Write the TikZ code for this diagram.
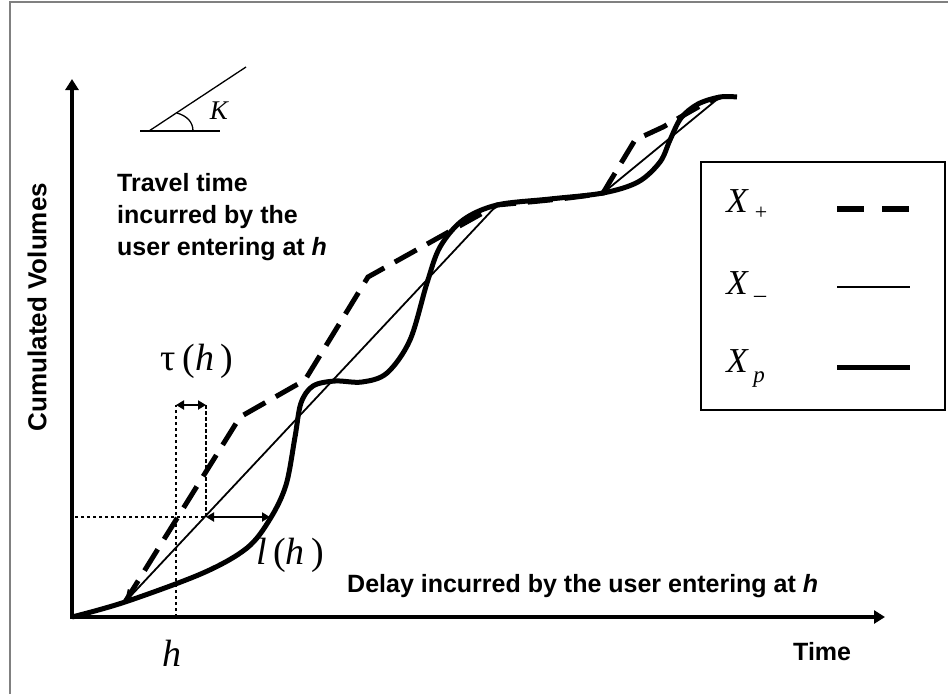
\documentclass[tikz,border=0pt]{standalone}
\usepackage{fontspec}
\setmainfont{Liberation Serif}
\setsansfont{Liberation Sans}
\usetikzlibrary{arrows.meta,positioning}

\tikzset{
  axisline/.style={line width=3.2pt,{Triangle[length=11pt,width=13pt]}-{Triangle[length=11pt,width=13pt]}},
  xplus/.style={line width=5pt,dash pattern=on 25pt off 12pt},
  xminus/.style={line width=1.8pt,-{Straight Barb[length=10pt,width=12pt]}},
  pcurve/.style={line width=5pt,line join=round},
  guide/.style={line width=2.8pt,dash pattern=on 3.5pt off 2.5pt},
  spanarrow/.style={line width=2.2pt,{Triangle[length=8pt,width=9pt]}-{Triangle[length=8pt,width=9pt]}},
  lab/.style={font=\sffamily\bfseries\fontsize{25}{29}\selectfont,inner sep=0pt},
  sym/.style={font=\fontsize{38}{42}\selectfont,inner sep=0pt},
  legsym/.style={font=\fontsize{35}{38}\selectfont\itshape,inner sep=0pt},
}

\begin{document}
\begin{tikzpicture}[x=1pt,y=-1pt]
  \useasboundingbox (0,0) rectangle (948,694);
  % frame
  \draw[gray,line width=1.5pt] (10,694) -- (10,2) -- (948,2);

  % axes
  \coordinate (o) at (72,617);
  \coordinate (ytop) at (72,79);
  \coordinate (xend) at (885,617);
  \draw[axisline] (ytop) -- (o) -- (xend);

  % slope K
  \coordinate (kv) at (149,131);
  \draw[line width=1.3pt] (140,131) -- (220,131);
  \draw[line width=1.3pt] (kv) -- (246,67);
  \draw[line width=1.3pt] (193,131) .. controls (193,122) and (187,116) .. (177,113);
  \node[sym,font=\fontsize{27}{30}\selectfont\itshape] (K) at (219,111) {K};

  % key points
  \coordinate (k1) at (125,602);
  \coordinate (k2) at (497,205);
  \coordinate (k3) at (603,193);
  \coordinate (k4) at (720,97);
  \coordinate (k5) at (737,97);

  % curves
  \draw[pcurve] plot[smooth,tension=0.55] coordinates {(o) (k1) (203,573) (247,548) (270,519) (286,485) (295,437) (301,403) (313,386) (335,381) (362,382) (387,373) (410,340) (427,283) (440,247) (463,220) (k2) (550,199) (k3) (638,182) (660,162) (670,140) (681,118) (698,104) (k4) (k5)};
  \draw[xminus] (k2) -- (k1);
  \draw[xminus] (k4) -- (k3);
  \draw[xplus] (k1) -- (240,417) -- (305,380) -- (368,277) -- (k2) .. controls (540,201) and (575,198) .. (k3) -- (635,140) -- (663,127) .. controls (690,112) and (705,102) .. (k4);

  % h construction
  \coordinate (hx) at (176,617);
  \coordinate (ht) at (176,405);
  \coordinate (lt) at (206,405);
  \coordinate (lb) at (206,517);
  \coordinate (hy) at (72,517);
  \coordinate (lp) at (270,517);
  \draw[guide] (hx) -- (ht);
  \draw[guide] (lt) -- (lb) -- (hy);
  \draw[spanarrow] (ht) -- (lt);
  \draw[spanarrow] (lb) -- (lp);

  % labels
  \node[sym] (tau) at (197,361) {τ\,(\textit{h}\,)};
  \node[sym] (lh) at (290,555) {\textit{l}\,(\textit{h}\,)};
  \node[sym] (h) at (172,653) {\textit{h}};
  \node[lab,anchor=base west] (delay) at (347,592) {Delay incurred by the user entering at \textit{h}};
  \node[lab,anchor=base west] (time) at (793,660) {Time};
  \node[lab,rotate=90,font=\sffamily\bfseries\fontsize{26}{29}\selectfont] (cum) at (37,307) {Cumulated Volumes};
  \node[lab,anchor=base west] (tr1) at (117,191) {Travel time};
  \node[lab,anchor=base west] (tr2) at (117,223) {incurred by the};
  \node[lab,anchor=base west] (tr3) at (117,255) {user entering at \textit{h}};

  % legend
  \draw[line width=2.2pt] (701,162) rectangle (945,410);
  \node[legsym] (lx1) at (737,201) {X};
  \node[inner sep=0pt,font=\fontsize{22}{22}\selectfont] (s1) at (761,213) {+};
  \node[legsym] (lx2) at (737,283) {X};
  \node[inner sep=0pt,font=\fontsize{24}{24}\selectfont] (s2) at (760,299) {–};
  \node[legsym] (lx3) at (737,361) {X};
  \node[inner sep=0pt,font=\fontsize{23}{23}\selectfont\itshape] (s3) at (759,380) {p};
  \draw[line width=5.5pt,dash pattern=on 27pt off 18pt] (837,209) -- (910,209);
  \draw[line width=2pt] (837,287) -- (910,287);
  \draw[line width=5pt] (837,367) -- (910,367);
\end{tikzpicture}
\end{document}
